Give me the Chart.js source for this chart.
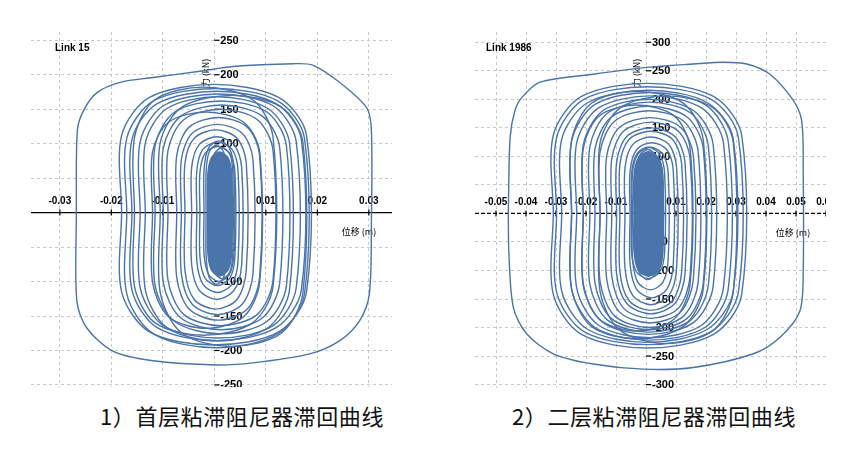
<!DOCTYPE html>
<html lang="zh">
<head>
<meta charset="UTF-8">
<title>粘滞阻尼器滞回曲线</title>
<script src="https://cdn.jsdelivr.net/npm/chart.js"></script>
<style>
  body { margin: 0; width: 867px; height: 459px; background: #fff; position: relative; overflow: hidden; }
  .plot { position: absolute; }
  #box1 { left: 31px; top: 32px; width: 361px; height: 355px; }
  #box2 { left: 475px; top: 32px; width: 351px; height: 356px; }
  .caption { position: absolute; top: 399px; font-family: "Noto Sans CJK SC"; font-weight: 400; font-size: 22px; letter-spacing: 0.6px; color: #111; white-space: nowrap; }
</style>
</head>
<body>
<div class="plot" id="box1"><canvas id="chart1"></canvas></div>
<div class="plot" id="box2"><canvas id="chart2"></canvas></div>
<div class="caption" style="left:100px">1）首层粘滞阻尼器滞回曲线</div>
<div class="caption" style="left:512px">2）二层粘滞阻尼器滞回曲线</div>

<script>
// ---- Link 15 (first storey damper): displacement (m) vs force (kN) ----
const link15Outer = [[-0.0268,0],[-0.0266,119],[-0.0254,148],[-0.0228,174],[-0.0183,189],[-0.0119,196],[-0.0028,205],[0.0036,212],[0.0153,216],[0.0191,214],[0.0243,189],[0.0296,152],[0.0305,119],[0.0305,-12],[0.0301,-118],[0.0282,-157],[0.0243,-186],[0.0185,-205],[0.0075,-218],[0.0004,-221],[-0.0119,-215],[-0.0197,-201],[-0.0248,-167],[-0.0267,-128],[-0.0268,0]];

const link15Loops = [
  [[-0.018,0],[-0.018,112],[-0.0126,167],[-0.0001,186],[0.0125,167],[0.0179,112],[0.0179,-115],[0.0125,-173],[-0.0001,-192],[-0.0126,-173],[-0.018,-115],[-0.018,0]],
  [[-0.017,0],[-0.017,108],[-0.0118,162],[0.0003,180],[0.0123,162],[0.0175,108],[0.0175,-118],[0.0123,-176],[0.0003,-196],[-0.0118,-176],[-0.017,-118],[-0.017,0]],
  [[-0.016,0],[-0.016,106],[-0.0111,158],[0.0005,176],[0.012,158],[0.0169,106],[0.0169,-112],[0.012,-167],[0.0005,-186],[-0.0111,-167],[-0.016,-112],[-0.016,0]],
  [[-0.0144,0],[-0.0144,103],[-0.0099,155],[0.0008,172],[0.0114,155],[0.0159,103],[0.0159,-109],[0.0114,-164],[0.0008,-182],[-0.0099,-164],[-0.0144,-109],[-0.0144,0]],
  [[-0.0134,0],[-0.0134,101],[-0.0092,151],[0.0006,168],[0.0104,151],[0.0146,101],[0.0146,-112],[0.0104,-167],[0.0006,-186],[-0.0092,-167],[-0.0134,-112],[-0.0134,0]],
  [[-0.0115,0],[-0.0115,97],[-0.0077,146],[0.0013,162],[0.0102,146],[0.014,97],[0.014,-106],[0.0102,-158],[0.0013,-176],[-0.0077,-158],[-0.0115,-106],[-0.0115,0]],
  [[-0.0099,0],[-0.0099,94],[-0.0065,140],[0.0014,156],[0.0093,140],[0.0127,94],[0.0127,-102],[0.0093,-153],[0.0014,-170],[-0.0065,-153],[-0.0099,-102],[-0.0099,0]],
  [[-0.009,0],[-0.009,90],[-0.0059,135],[0.0012,150],[0.0083,135],[0.0114,90],[0.0114,-98],[0.0083,-148],[0.0012,-164],[-0.0059,-148],[-0.009,-98],[-0.009,0]],
  [[-0.0073,0],[-0.0073,83],[-0.0049,124],[0.0008,138],[0.0064,124],[0.0088,83],[0.0088,-94],[0.0064,-140],[0.0008,-156],[-0.0049,-140],[-0.0073,-94],[-0.0073,0]],
  [[-0.0064,0],[-0.0064,77],[-0.0043,115],[0.0006,128],[0.0054,115],[0.0075,77],[0.0075,-89],[0.0054,-133],[0.0006,-148],[-0.0043,-133],[-0.0064,-89],[-0.0064,0]],
  [[-0.0057,0],[-0.0057,72],[-0.0039,108],[0.0003,120],[0.0044,108],[0.0062,72],[0.0062,-84],[0.0044,-126],[0.0003,-140],[-0.0039,-126],[-0.0057,-84],[-0.0057,0]],
  [[-0.0044,0],[-0.0044,66],[-0.0029,99],[0.0005,110],[0.0038,99],[0.0053,66],[0.0053,-76],[0.0038,-113],[0.0005,-126],[-0.0029,-113],[-0.0044,-76],[-0.0044,0]],
  [[-0.0034,0],[-0.0034,61],[-0.0022,92],[0.0006,102],[0.0034,92],[0.0046,61],[0.0046,-70],[0.0034,-104],[0.0006,-116],[-0.0022,-104],[-0.0034,-70],[-0.0034,0]],
  [[-0.0028,0],[-0.0028,58],[-0.0018,86],[0.0006,96],[0.003,86],[0.004,58],[0.004,-64],[0.003,-95],[0.0006,-106],[-0.0018,-95],[-0.0028,-64],[-0.0028,0]],
  [[-0.0155,0],[-0.0155,109],[-0.0115,164],[-0.0021,182],[0.0074,164],[0.0114,109],[0.0114,-107],[0.0074,-160],[-0.0021,-178],[-0.0115,-160],[-0.0155,-107],[-0.0155,0]],
  [[-0.0105,0],[-0.0105,102],[-0.0063,153],[0.0034,170],[0.013,153],[0.0172,102],[0.0172,-116],[0.013,-175],[0.0034,-194],[-0.0063,-175],[-0.0105,-116],[-0.0105,0]],
  [[-0.012,0],[-0.012,88],[-0.0089,131],[-0.0016,146],[0.0057,131],[0.0088,88],[0.0088,-101],[0.0057,-151],[-0.0016,-168],[-0.0089,-151],[-0.012,-101],[-0.012,0]],
  [[-0.002,0],[-0.002,62],[-0.0011,94],[0.0009,104],[0.0029,94],[0.0038,62],[0.0038,-60],[0.0029,-90],[0.0009,-100],[-0.0011,-90],[-0.002,-60],[-0.002,0]],
  [[-0.0016,0],[-0.0016,59],[-0.001,88],[0.0004,98],[0.0018,88],[0.0024,59],[0.0024,-62],[0.0018,-94],[0.0004,-104],[-0.001,-94],[-0.0016,-62],[-0.0016,0]],
  [[-0.0006,0],[-0.0006,56],[0,85],[0.0015,94],[0.003,85],[0.0036,56],[0.0036,-58],[0.003,-86],[0.0015,-96],[0,-86],[-0.0006,-58],[-0.0006,0]]
];

const link15Core = [[-0.0013,0],[-0.0013,53],[-0.0006,79],[0.001,88],[0.0027,79],[0.0034,53],[0.0034,-55],[0.0027,-83],[0.001,-92],[-0.0006,-83],[-0.0013,-55],[-0.0013,0]];

// ---- Link 1986 (second storey damper) ----
const link1986Outer = [[-0.0459,0],[-0.0453,133],[-0.0437,180],[-0.0414,203],[-0.0353,230],[-0.0176,244],[0.0002,256],[0.0158,262],[0.0258,265],[0.0336,262],[0.0413,244],[0.0491,198],[0.0519,162],[0.0524,75],[0.0524,-100],[0.0513,-171],[0.0447,-217],[0.0358,-246],[0.0158,-270],[-0.0009,-273],[-0.0176,-264],[-0.0309,-246],[-0.0398,-211],[-0.0442,-165],[-0.0457,-71],[-0.0459,0]];

const link1986Loops = [
  [[-0.0309,0],[-0.0309,137],[-0.0215,205],[0.0005,228],[0.0225,205],[0.0319,137],[0.0319,-142],[0.0225,-212],[0.0005,-236],[-0.0215,-212],[-0.0309,-142],[-0.0309,0]],
  [[-0.0298,0],[-0.0298,133],[-0.0207,200],[0.0005,222],[0.0217,200],[0.0308,133],[0.0308,-138],[0.0217,-207],[0.0005,-230],[-0.0207,-207],[-0.0298,-138],[-0.0298,0]],
  [[-0.0281,0],[-0.0281,130],[-0.0195,194],[0.0005,216],[0.0205,194],[0.0291,130],[0.0291,-136],[0.0205,-203],[0.0005,-226],[-0.0195,-203],[-0.0281,-136],[-0.0281,0]],
  [[-0.0248,0],[-0.0248,127],[-0.017,191],[0.0013,212],[0.0196,191],[0.0274,127],[0.0274,-133],[0.0196,-200],[0.0013,-222],[-0.017,-200],[-0.0248,-133],[-0.0248,0]],
  [[-0.0231,0],[-0.0231,124],[-0.0158,185],[0.0014,206],[0.0185,185],[0.0258,124],[0.0258,-131],[0.0185,-196],[0.0014,-218],[-0.0158,-196],[-0.0231,-131],[-0.0231,0]],
  [[-0.0209,0],[-0.0209,120],[-0.0144,180],[0.0008,200],[0.0159,180],[0.0224,120],[0.0224,-127],[0.0159,-191],[0.0008,-212],[-0.0144,-191],[-0.0209,-127],[-0.0209,0]],
  [[-0.0187,0],[-0.0187,117],[-0.0128,176],[0.001,195],[0.0149,176],[0.0208,117],[0.0208,-125],[0.0149,-187],[0.001,-208],[-0.0128,-187],[-0.0187,-125],[-0.0187,0]],
  [[-0.017,0],[-0.017,113],[-0.0116,169],[0.001,188],[0.0137,169],[0.0191,113],[0.0191,-122],[0.0137,-184],[0.001,-204],[-0.0116,-184],[-0.017,-122],[-0.017,0]],
  [[-0.0153,0],[-0.0153,108],[-0.0104,162],[0.001,180],[0.0125,162],[0.0174,108],[0.0174,-120],[0.0125,-180],[0.001,-200],[-0.0104,-180],[-0.0153,-120],[-0.0153,0]],
  [[-0.0131,0],[-0.0131,101],[-0.0088,151],[0.0014,168],[0.0115,151],[0.0158,101],[0.0158,-115],[0.0115,-173],[0.0014,-192],[-0.0088,-173],[-0.0131,-115],[-0.0131,0]],
  [[-0.0114,0],[-0.0114,96],[-0.0075,144],[0.0017,160],[0.0108,144],[0.0147,96],[0.0147,-110],[0.0108,-166],[0.0017,-184],[-0.0075,-166],[-0.0114,-110],[-0.0114,0]],
  [[-0.0098,0],[-0.0098,90],[-0.0064,135],[0.0016,150],[0.0096,135],[0.013,90],[0.013,-106],[0.0096,-158],[0.0016,-176],[-0.0064,-158],[-0.0098,-106],[-0.0098,0]],
  [[-0.0087,0],[-0.0087,86],[-0.0056,130],[0.0016,144],[0.0088,130],[0.0119,86],[0.0119,-102],[0.0088,-153],[0.0016,-170],[-0.0056,-153],[-0.0087,-102],[-0.0087,0]],
  [[-0.007,0],[-0.007,80],[-0.0044,121],[0.0016,134],[0.0076,121],[0.0102,80],[0.0102,-96],[0.0076,-144],[0.0016,-160],[-0.0044,-144],[-0.007,-96],[-0.007,0]],
  [[-0.0053,0],[-0.0053,74],[-0.0031,112],[0.0019,124],[0.0069,112],[0.0091,74],[0.0091,-89],[0.0069,-133],[0.0019,-148],[-0.0031,-133],[-0.0053,-89],[-0.0053,0]],
  [[-0.0045,0],[-0.0045,70],[-0.0027,104],[0.0015,116],[0.0056,104],[0.0074,70],[0.0074,-80],[0.0056,-121],[0.0015,-134],[-0.0027,-121],[-0.0045,-80],[-0.0045,0]],
  [[-0.0248,0],[-0.0248,128],[-0.0182,193],[-0.0029,214],[0.0125,193],[0.0191,128],[0.0191,-132],[0.0125,-198],[-0.0029,-220],[-0.0182,-198],[-0.0248,-132],[-0.0248,0]],
  [[-0.0153,0],[-0.0153,124],[-0.0086,185],[0.0069,206],[0.0224,185],[0.0291,124],[0.0291,-137],[0.0224,-205],[0.0069,-228],[-0.0086,-205],[-0.0153,-137],[-0.0153,0]],
  [[-0.0209,0],[-0.0209,114],[-0.0156,171],[-0.0031,190],[0.0094,171],[0.0147,114],[0.0147,-124],[0.0094,-185],[-0.0031,-206],[-0.0156,-185],[-0.0209,-124],[-0.0209,0]],
  [[-0.0048,0],[-0.0048,70],[-0.0031,104],[0.0007,116],[0.0045,104],[0.0062,70],[0.0062,-68],[0.0045,-103],[0.0007,-114],[-0.0031,-103],[-0.0048,-68],[-0.0048,0]],
  [[-0.0034,0],[-0.0034,67],[-0.0022,101],[0.0006,112],[0.0034,101],[0.0046,67],[0.0046,-70],[0.0034,-104],[0.0006,-116],[-0.0022,-104],[-0.0034,-70],[-0.0034,0]],
  [[-0.002,0],[-0.002,62],[-0.0009,94],[0.0018,104],[0.0045,94],[0.0056,62],[0.0056,-65],[0.0045,-97],[0.0018,-108],[-0.0009,-97],[-0.002,-65],[-0.002,0]]
];

const link1986Core = [[-0.004,0],[-0.004,65],[-0.0026,97],[0.0008,108],[0.0042,97],[0.0056,65],[0.0056,-66],[0.0042,-99],[0.0008,-110],[-0.0026,-99],[-0.004,-66],[-0.004,0]];

const LINE = '#4a74aa';

// axis labels drawn next to the zero lines, under the curves
const axisDecor = {
  id: 'axisDecor',
  beforeDatasetsDraw(chart, args, o) {
    const { ctx, chartArea: a, scales: { x, y } } = chart;
    const x0 = x.getPixelForValue(0);
    const y0 = y.getPixelForValue(0);
    ctx.save();
    ctx.strokeStyle = '#000';
    ctx.fillStyle = '#000';
    ctx.lineWidth = 1.2;
    ctx.setLineDash(o.axisDash);
    ctx.beginPath(); ctx.moveTo(a.left, y0); ctx.lineTo(a.right, y0); ctx.stroke();
    ctx.setLineDash([]);

    ctx.font = 'bold 10px "Liberation Sans"';
    ctx.textAlign = 'center';
    ctx.textBaseline = 'middle';
    x.ticks.forEach(t => {
      if (Math.abs(t.value) < 1e-9) return;
      const px = x.getPixelForValue(t.value);
      ctx.beginPath(); ctx.moveTo(px, y0 - 3); ctx.lineTo(px, y0 + 3); ctx.stroke();
      ctx.fillText(t.label, px, y0 - 11);
    });

    ctx.font = 'bold 11px "Liberation Sans"';
    ctx.textAlign = 'left';
    y.ticks.forEach(t => {
      if (Math.abs(t.value) < 1e-9) return;
      const py = y.getPixelForValue(t.value);
      ctx.beginPath(); ctx.moveTo(x0, py); ctx.lineTo(x0 + 5, py); ctx.stroke();
      ctx.fillText(t.label, x0 + 6, py + 0.5);
    });

    ctx.font = 'bold 10px "Liberation Sans"';
    ctx.fillText(o.link, a.left + o.linkX, a.top + 16);

    ctx.font = '9px "Noto Sans CJK SC"';
    ctx.textAlign = 'center';
    ctx.fillText('位移 (m)', a.right - 33, y0 + 19);
    ctx.translate(x0 - 9, a.top + 41);
    ctx.rotate(-Math.PI / 2);
    ctx.fillText('力 (kN)', 0, 0);
    ctx.restore();
  }
};

function loopDataset(points) {
  return { data: points, showLine: true, pointRadius: 0, borderColor: LINE, borderWidth: 1.4, tension: 0.31, fill: false };
}

function makeChart(id, outer, loops, core, xr, yr, decor) {
  const datasets = loops.map(loopDataset);
  datasets.push(Object.assign(loopDataset(core), { fill: 'shape', backgroundColor: LINE }));
  datasets.push(Object.assign(loopDataset(outer), { tension: 0.3 }));
  const grid = { color: '#c9c9c9', lineWidth: 1, drawTicks: false };
  const border = { display: false, dash: [3, 3] };
  return new Chart(document.getElementById(id), {
    type: 'scatter',
    data: { datasets },
    options: {
      responsive: true,
      maintainAspectRatio: false,
      animation: false,
      events: [],
      layout: { padding: 0 },
      plugins: { legend: { display: false }, tooltip: { enabled: false }, axisDecor: decor },
      scales: {
        x: {
          type: 'linear', min: xr[0], max: xr[1], position: { y: 0 },
          grid, border,
          ticks: { display: false, stepSize: 0.01, includeBounds: false, autoSkip: false, maxTicksLimit: 100 }
        },
        y: {
          type: 'linear', min: yr[0], max: yr[1], position: { x: 0 },
          grid, border,
          ticks: { display: false, stepSize: 50, includeBounds: false, autoSkip: false, maxTicksLimit: 100 }
        }
      }
    },
    plugins: [axisDecor]
  });
}

makeChart('chart1', link15Outer, link15Loops, link15Core, [-0.0356, 0.0345], [-253, 262],
  { link: 'Link 15', linkX: 24, axisDash: [] });
makeChart('chart2', link1986Outer, link1986Loops, link1986Core, [-0.057, 0.060], [-306, 318],
  { link: 'Link 1986', linkX: 11, axisDash: [4, 2] });
</script>
</body>
</html>
